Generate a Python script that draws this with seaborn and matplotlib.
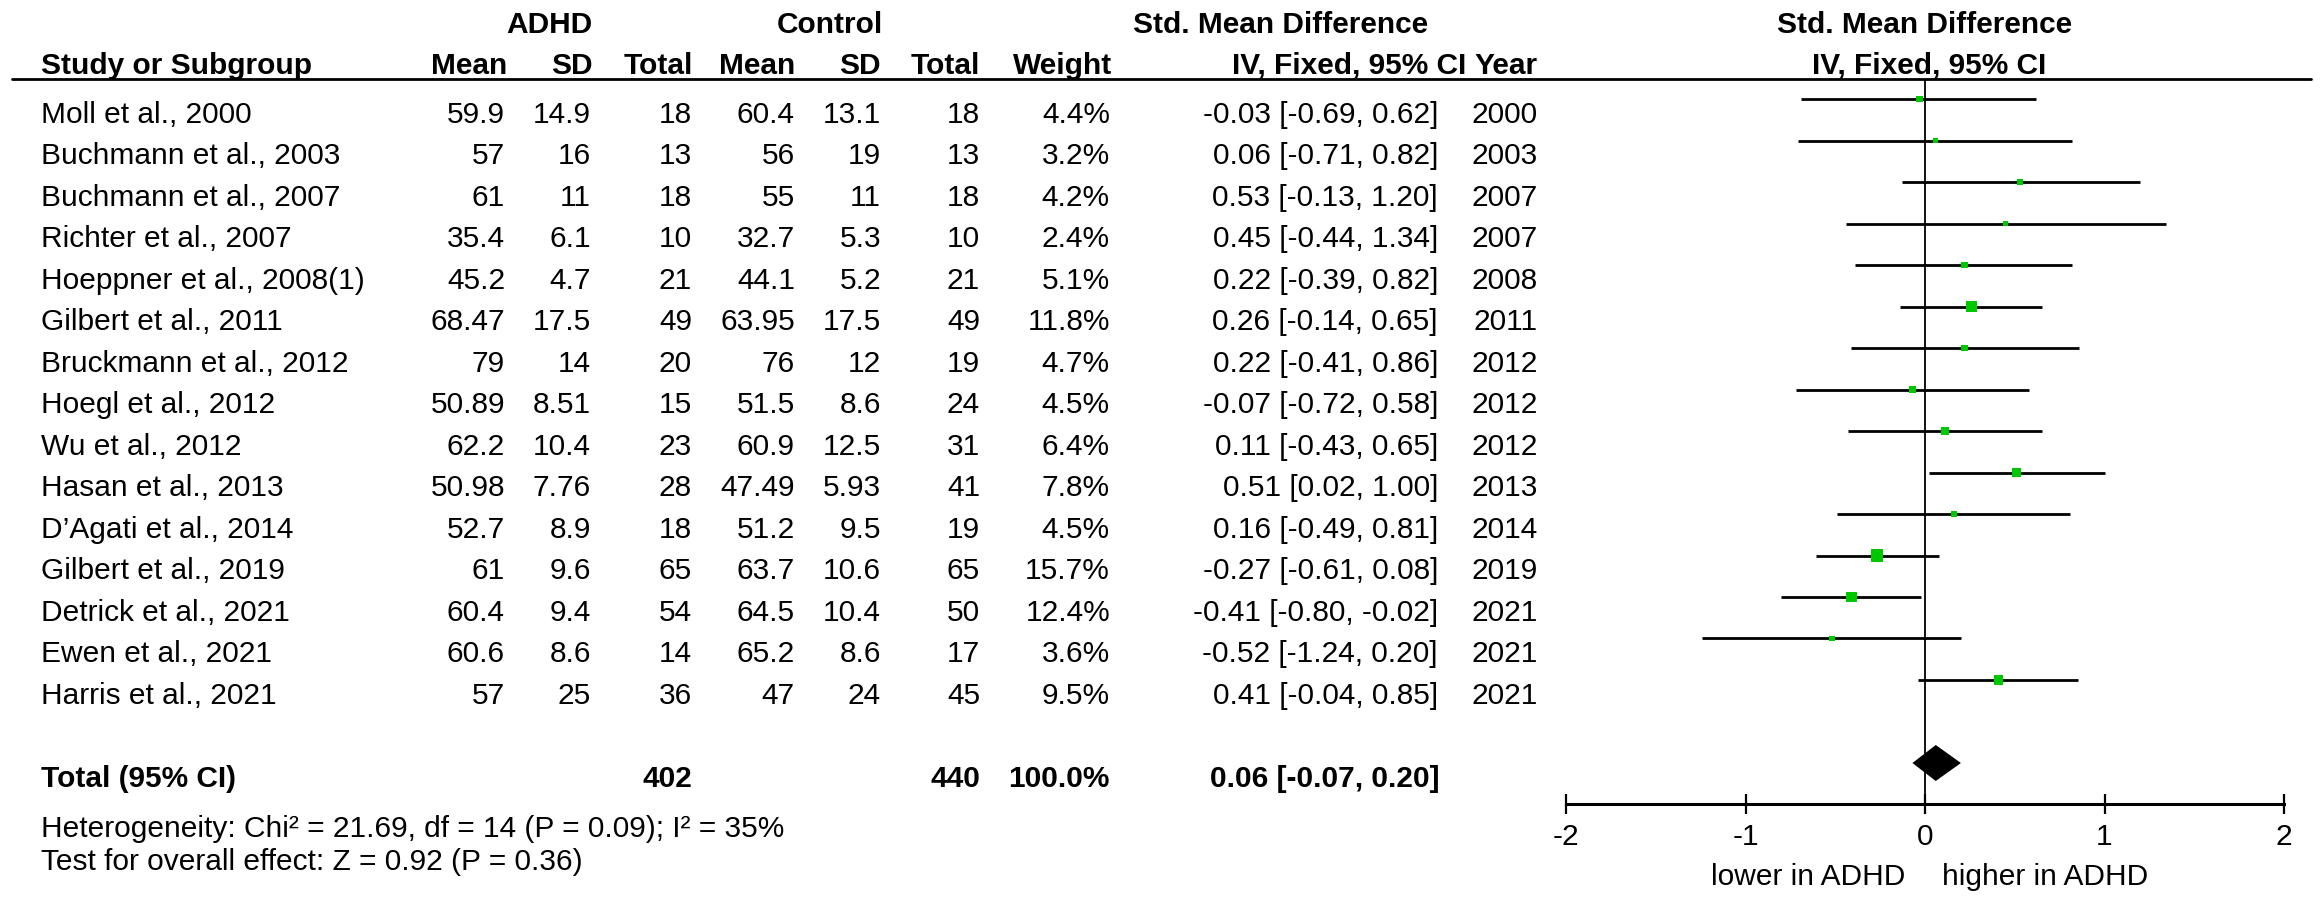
import numpy as np
import pandas as pd
import matplotlib
matplotlib.use("Agg")
import matplotlib.pyplot as plt
import seaborn as sns
from matplotlib import transforms
from matplotlib.lines import Line2D

# ---------------- data ----------------
studies = ["Moll et al., 2000", "Buchmann et al., 2003", "Buchmann et al., 2007",
           "Richter et al., 2007", "Hoeppner et al., 2008(1)", "Gilbert et al., 2011",
           "Bruckmann et al., 2012", "Hoegl et al., 2012", "Wu et al., 2012",
           "Hasan et al., 2013", "D\u2019Agati et al., 2014", "Gilbert et al., 2019",
           "Detrick et al., 2021", "Ewen et al., 2021", "Harris et al., 2021"]
adhd_mean = ["59.9", "57", "61", "35.4", "45.2", "68.47", "79", "50.89", "62.2",
             "50.98", "52.7", "61", "60.4", "60.6", "57"]
adhd_sd = ["14.9", "16", "11", "6.1", "4.7", "17.5", "14", "8.51", "10.4",
           "7.76", "8.9", "9.6", "9.4", "8.6", "25"]
adhd_n = [18, 13, 18, 10, 21, 49, 20, 15, 23, 28, 18, 65, 54, 14, 36]
ctrl_mean = ["60.4", "56", "55", "32.7", "44.1", "63.95", "76", "51.5", "60.9",
             "47.49", "51.2", "63.7", "64.5", "65.2", "47"]
ctrl_sd = ["13.1", "19", "11", "5.3", "5.2", "17.5", "12", "8.6", "12.5",
           "5.93", "9.5", "10.6", "10.4", "8.6", "24"]
ctrl_n = [18, 13, 18, 10, 21, 49, 19, 24, 31, 41, 19, 65, 50, 17, 45]
weight = [4.4, 3.2, 4.2, 2.4, 5.1, 11.8, 4.7, 4.5, 6.4, 7.8, 4.5, 15.7, 12.4, 3.6, 9.5]
smd = [-0.03, 0.06, 0.53, 0.45, 0.22, 0.26, 0.22, -0.07, 0.11, 0.51, 0.16,
       -0.27, -0.41, -0.52, 0.41]
ci_lo = [-0.69, -0.71, -0.13, -0.44, -0.39, -0.14, -0.41, -0.72, -0.43, 0.02,
         -0.49, -0.61, -0.80, -1.24, -0.04]
ci_hi = [0.62, 0.82, 1.20, 1.34, 0.82, 0.65, 0.86, 0.58, 0.65, 1.00, 0.81,
         0.08, -0.02, 0.20, 0.85]
years = [2000, 2003, 2007, 2007, 2008, 2011, 2012, 2012, 2012, 2013, 2014,
         2019, 2021, 2021, 2021]

total_adhd_n = 402
total_ctrl_n = 440
total_weight = "100.0%"
total_smd = 0.06
total_lo = -0.07
total_hi = 0.20
heterogeneity = "Heterogeneity: Chi\u00b2 = 21.69, df = 14 (P = 0.09); I\u00b2 = 35%"
overall = "Test for overall effect: Z = 0.92 (P = 0.36)"
xticks = [-2, -1, 0, 1, 2]
xtick_labels = ["-2", "-1", "0", "1", "2"]

# ---------------- style ----------------
sns.set_theme(style="white")
plt.rcParams["font.family"] = ["Liberation Sans", "DejaVu Sans"]
FS = 21.5
GREEN = "#00C800"

W, H = 2320, 904
fig = plt.figure(figsize=(W / 100, H / 100), dpi=100)
fig.patch.set_facecolor("white")

ROW_PX0, ROW_DY = 100.0, 41.5
AX_BOTTOM_PX = 805.0
ax = fig.add_axes([1566 / W, (H - AX_BOTTOM_PX) / H, 718 / W, AX_BOTTOM_PX / H])
ax.set_facecolor("none")
ax.set_xlim(-2, 2)
ax.set_ylim((AX_BOTTOM_PX - ROW_PX0) / ROW_DY, (0 - ROW_PX0) / ROW_DY)

n = len(studies)
rows = np.arange(n)
TOTAL_ROW = n + 1

df = pd.DataFrame({"study": studies, "smd": smd, "lo": ci_lo, "hi": ci_hi,
                   "weight": weight, "row": rows})

# zero line
under_row = (79.5 - ROW_PX0) / ROW_DY
ax.vlines(0, under_row, (AX_BOTTOM_PX - ROW_PX0) / ROW_DY, color="black", lw=1.3, zorder=1)

# CI lines
ax.hlines(df["row"], df["lo"], df["hi"], color="black", lw=2.0, zorder=2)

# squares
k = 4.76
sns.scatterplot(data=df, x="smd", y="row", size="weight",
                sizes=(k * min(weight), k * max(weight)),
                marker="s", color=GREEN, linewidth=0, legend=False, ax=ax, zorder=3)

# diamond
h = 18 / ROW_DY
ax.fill([total_lo, total_smd, total_hi, total_smd],
        [TOTAL_ROW, TOTAL_ROW - h, TOTAL_ROW, TOTAL_ROW + h],
        color="black", lw=0, zorder=3)

# axis
for s in ["top", "left", "right"]:
    ax.spines[s].set_visible(False)
ax.spines["bottom"].set_linewidth(2.2)
ax.spines["bottom"].set_color("black")
ax.set_yticks([])
ax.set_xticks(xticks)
ax.set_xticklabels(xtick_labels, fontsize=FS)
ax.tick_params(axis="x", direction="inout", length=14.4, width=1.6, pad=5.5,
               colors="black", bottom=True)
ax.set_xlabel("")
ax.set_ylabel("")
ax.grid(False)

# ---------------- table text ----------------
tr = transforms.blended_transform_factory(fig.transFigure, ax.transData)
BASE = 23 / ROW_DY  # baseline offset below the row line


def put(xpx, row, s, ha="right", bold=False):
    ax.text(xpx / W, row + BASE, s, transform=tr, ha=ha, va="baseline",
            fontsize=FS, fontweight="bold" if bold else "normal", color="black",
            clip_on=False)


def put_px(xpx, ypx, s, ha="center", bold=False):
    fig.text(xpx / W, 1 - ypx / H, s, ha=ha, va="baseline", fontsize=FS,
             fontweight="bold" if bold else "normal", color="black")


# header row 1
put_px(549, 33, "ADHD", bold=True)
put_px(830, 33, "Control", bold=True)
put_px(1281, 33, "Std. Mean Difference", bold=True)
put_px(1925, 33, "Std. Mean Difference", bold=True)
# header row 2
put_px(41, 74, "Study or Subgroup", ha="left", bold=True)
put_px(507, 74, "Mean", ha="right", bold=True)
put_px(593, 74, "SD", ha="right", bold=True)
put_px(693, 74, "Total", ha="right", bold=True)
put_px(795, 74, "Mean", ha="right", bold=True)
put_px(881, 74, "SD", ha="right", bold=True)
put_px(980, 74, "Total", ha="right", bold=True)
put_px(1112, 74, "Weight", ha="right", bold=True)
put_px(1466, 74, "IV, Fixed, 95% CI", ha="right", bold=True)
put_px(1538, 74, "Year", ha="right", bold=True)
put_px(1929, 74, "IV, Fixed, 95% CI", bold=True)

fig.add_artist(Line2D([12 / W, 2311 / W], [1 - 79.5 / H, 1 - 79.5 / H],
                      color="black", lw=2.0, transform=fig.transFigure))

for i in range(n):
    put(41, i, studies[i], ha="left")
    put(505, i, adhd_mean[i])
    put(591, i, adhd_sd[i])
    put(692, i, str(adhd_n[i]))
    put(795, i, ctrl_mean[i])
    put(881, i, ctrl_sd[i])
    put(980, i, str(ctrl_n[i]))
    put(1110, i, f"{weight[i]:.1f}%")
    put(1438, i, f"{smd[i]:.2f} [{ci_lo[i]:.2f}, {ci_hi[i]:.2f}]")
    put(1538, i, str(years[i]))

put(41, TOTAL_ROW, "Total (95% CI)", ha="left", bold=True)
put(692, TOTAL_ROW, str(total_adhd_n), bold=True)
put(980, TOTAL_ROW, str(total_ctrl_n), bold=True)
put(1110, TOTAL_ROW, total_weight, bold=True)
put(1440, TOTAL_ROW, f"{total_smd:.2f} [{total_lo:.2f}, {total_hi:.2f}]", bold=True)

put_px(41, 837, heterogeneity, ha="left")
put_px(41, 870, overall, ha="left")

# direction labels
trx = transforms.blended_transform_factory(ax.transData, fig.transFigure)
ax.text(0, 1 - 885 / H, "lower in ADHD", transform=transforms.offset_copy(trx, fig=fig, x=-20 * 0.72, units="points"),
        ha="right", va="baseline", fontsize=FS, color="black", clip_on=False)
ax.text(0, 1 - 885 / H, "higher in ADHD", transform=transforms.offset_copy(trx, fig=fig, x=17 * 0.72, units="points"),
        ha="left", va="baseline", fontsize=FS, color="black", clip_on=False)

fig.savefig("out.png", dpi=100, facecolor="white")
